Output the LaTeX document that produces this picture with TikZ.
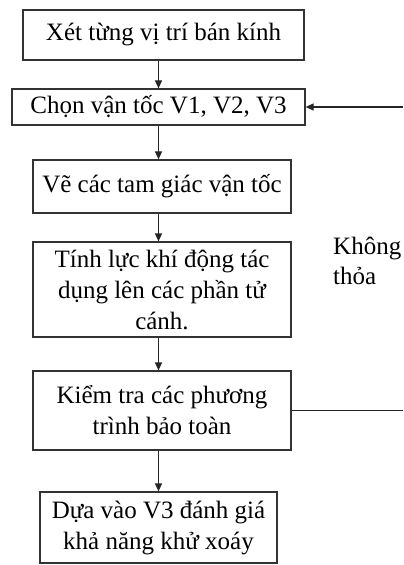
\documentclass[tikz,border=0pt]{standalone}
\usepackage{fontspec}
\setmainfont{Liberation Serif}
\usetikzlibrary{arrows.meta}

\tikzset{
  hop/.style={draw=black!80, line width=1.2bp, text=black, align=center,
    inner sep=0pt, font=\fontsize{25bp}{31bp}\selectfont},
  mui/.style={line width=1.2bp, color=black!85, -{Triangle[length=8bp,width=7bp]}}
}

\begin{document}
\begin{tikzpicture}[x=1bp,y=-1bp]
			%%%%% START %%%%%
			\useasboundingbox (0,0) rectangle (403,565);
			
			\node[hop, minimum width=281bp, minimum height=50bp] (b1) at (163.5,35) {Xét từng vị trí bán kính};
			\node[hop, minimum width=293bp, minimum height=36bp] (b2) at (158.5,107) {Chọn vận tốc V1, V2, V3};
			\node[hop, minimum width=258bp, minimum height=53bp] (b3) at (162,186.5) {Vẽ các tam giác vận tốc};
			\node[hop, minimum width=258bp, minimum height=95bp] (b4) at (162,289.5) {Tính lực khí động tác\\dụng lên các phần tử\\cánh.};
			\node[hop, minimum width=258bp, minimum height=79bp] (b5) at (162,410.5) {Kiểm tra các phương\\trình bảo toàn};
			\node[hop, minimum width=237bp, minimum height=71bp] (b6) at (158.5,527.5) {Dựa vào V3 đánh giá\\khả năng khử xoáy};
			
			\node[anchor=west, align=left, inner sep=0pt, font=\fontsize{25bp}{30bp}\selectfont] (kt) at (333,261) {Không\\thỏa};
			
			\coordinate (c1) at (403,107);
			\coordinate (c2) at (403,410.5);
			
			\draw[mui] (b1.south -| b2) -- (b2.north);
			\draw[mui] (b2.south) -- (b2.south |- b3.north);
			\draw[mui] (b3.south -| b2) -- (b2 |- b4.north);
			\draw[mui] (b4.south -| b2) -- (b2 |- b5.north);
			\draw[mui] (b5.south -| b6) -- (b6.north);
			
			\draw[line width=1.2bp, color=black!85] (b5.east) -- (c2);
			\draw[mui] (c1) -- (b2.east);
			%%%%% END %%%%%
\end{tikzpicture}
\end{document}
